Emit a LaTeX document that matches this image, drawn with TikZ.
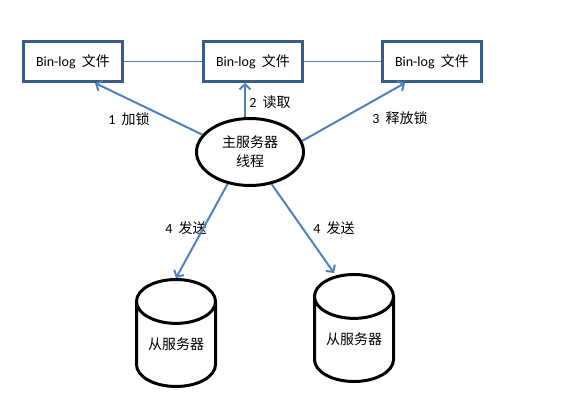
\documentclass[tikz,border=0pt]{standalone}
\usepackage{fontspec}
\setmainfont{Carlito}
\newfontfamily\cjk{Noto Sans CJK SC}
\usetikzlibrary{shapes.geometric, arrows.meta}
\definecolor{boxblue}{HTML}{385D8A}
\definecolor{arrowblue}{HTML}{4F81BD}

\newcommand{\hightext}[1]{\raisebox{5pt}[\height][\depth]{#1}}

\tikzset{
    logfile/.style={draw=boxblue, line width=3pt, minimum width=99pt, minimum height=40pt},
    thread/.style={ellipse, draw, line width=3pt, minimum width=107pt, minimum height=67pt, align=center},
    slave/.style={cylinder, shape border rotate=90, shape aspect=0.7, draw, line width=3pt,
        minimum width=79pt, minimum height=107pt, anchor=shape center},
    arr/.style={draw=arrowblue, line width=2pt, -{Straight Barb[length=5pt, width=11pt]}},
}

\begin{document}
\begin{tikzpicture}[x=1pt, y=-1pt, font=\fontsize{14pt}{19pt}\selectfont]
    \useasboundingbox (0,0) rectangle (568,409);
    \node[logfile] (log1) at (73,61.5)  {Bin-log\ \ {\cjk 文件}};
    \node[logfile] (log2) at (253,61.5) {Bin-log\ \ {\cjk 文件}};
    \node[logfile] (log3) at (432,61.5) {Bin-log\ \ {\cjk 文件}};
    \node[thread] (master) at (250,152) {{\cjk 主服务器}\\{\cjk 线程}};
    \node[slave] (slave1) at (176,333) {\hightext{\cjk 从服务器}};
    \node[slave] (slave2) at (354,328) {\hightext{\cjk 从服务器}};

    % labels
    \node (lock)    at (129,119) {1\ \ {\cjk 加锁}};
    \node (read)    at (270,102) {2\ \ {\cjk 读取}};
    \node (unlock)  at (400,118) {3\ \ {\cjk 释放锁}};
    \node (send1)   at (186,228) {4\ \ {\cjk 发送}};
    \node (send2)   at (334,228) {4\ \ {\cjk 发送}};

    \draw[arrowblue, line width=1pt] (log1) -- (log2) (log2) -- (log3);
    \draw[arr] (master.160) -- ([xshift=22pt]log1.south);
    \draw[arr] ([xshift=-5pt]master.north) -- ([xshift=-8pt]log2.south);
    \draw[arr] (master.12) -- ([xshift=-27pt]log3.south);
    \draw[arr] (master.235) -- (slave1.north);
    \draw[arr] (master.-56) -- ([xshift=-20pt]slave2.north);
\end{tikzpicture}
\end{document}
